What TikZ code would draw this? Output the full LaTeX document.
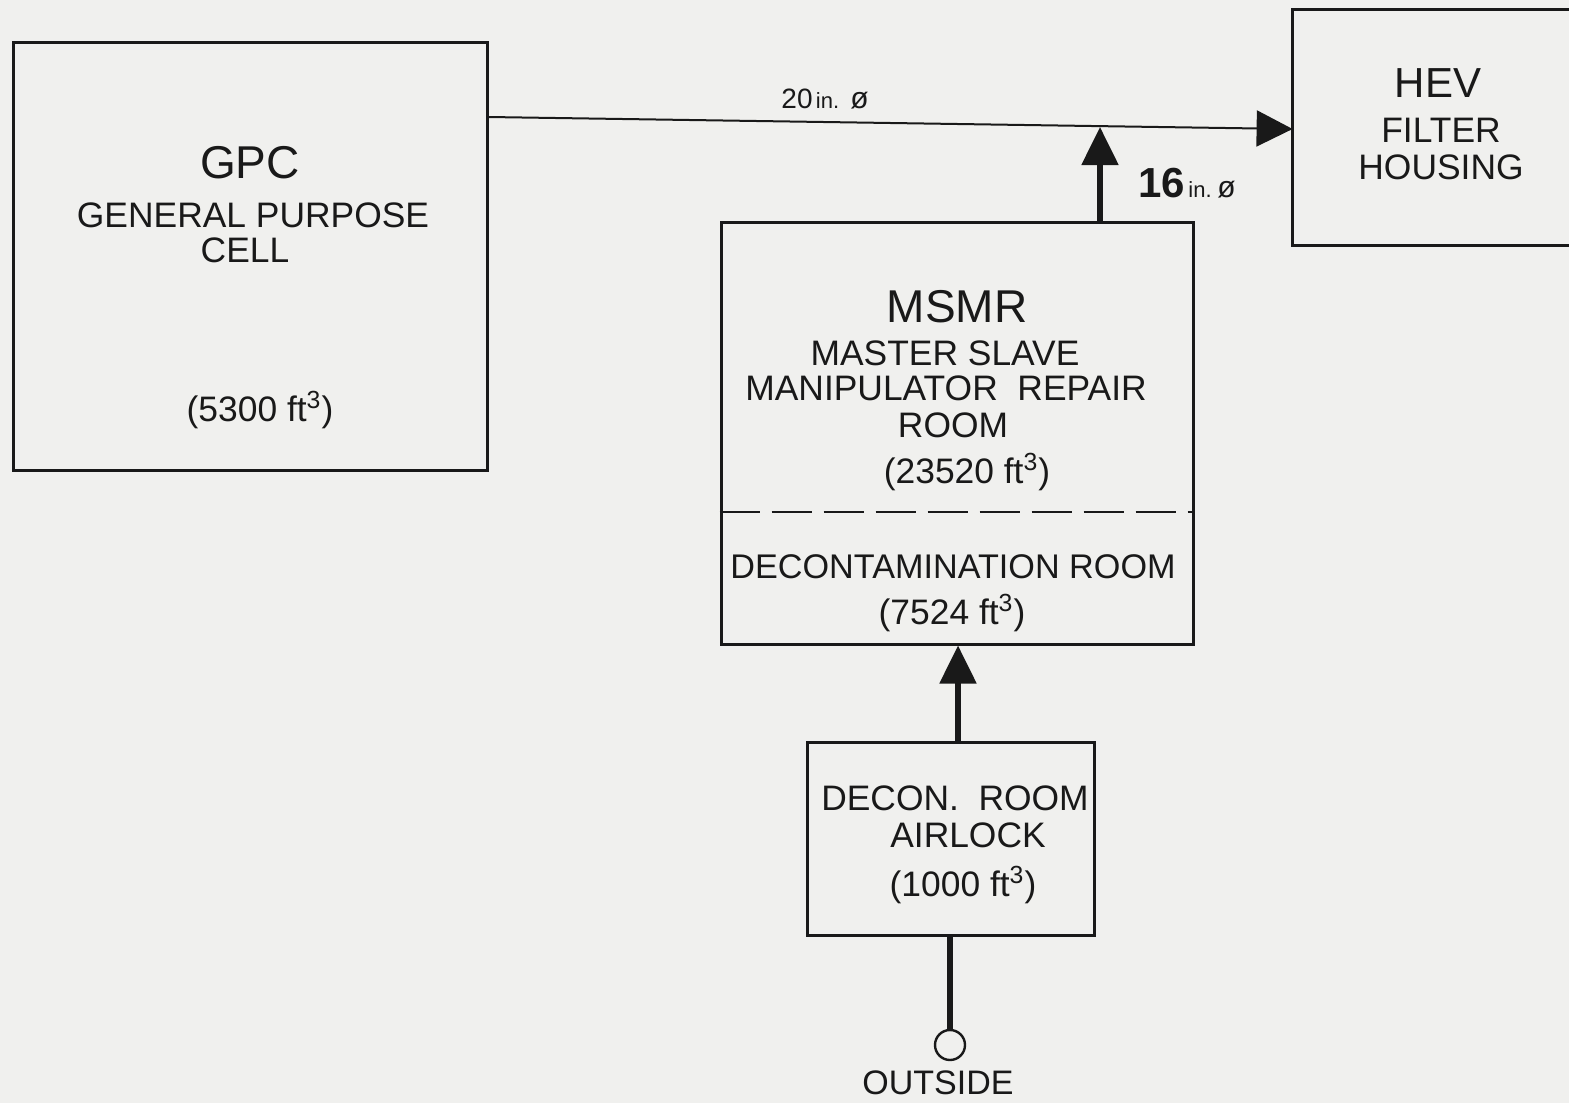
\documentclass[tikz,border=0pt]{standalone}
\usepackage{fontspec}
\setmainfont{Liberation Sans}
\usetikzlibrary{arrows.meta,fit}
\definecolor{bg}{RGB}{240,240,238}
\definecolor{ink}{RGB}{25,25,25}
\begin{document}
\begin{tikzpicture}[x=0.5pt,y=-0.5pt,
  box/.style={draw=ink, line width=1.5pt, inner sep=0pt},
  openbox/.style={inner sep=0pt},
  txt/.style={text=ink, inner sep=0pt, font=\fontsize{17.7}{20}\selectfont},
  big/.style={text=ink, inner sep=0pt, font=\fontsize{23}{26}\selectfont},
  pipe/.style={draw=ink, line width=1pt, -{Triangle[length=18pt,width=18pt]}},
  flow/.style={draw=ink, line width=2.6pt, -{Triangle[length=19pt,width=18pt]}},
  feed/.style={draw=ink, line width=2.6pt},
  divider/.style={draw=ink, line width=1pt, dash pattern=on 20pt off 6pt},
  port/.style={draw=ink, circle, line width=1.2pt, minimum size=15pt, inner sep=0pt}
]
\fill[bg] (0,0) rectangle (1569,1103);
\useasboundingbox (0,0) rectangle (1569,1103);

% boxes
\node[box, fit={(13,42) (487,470)}] (gpc) {};
\node[openbox, fit={(1293,10) (1569,245)}] (hev) {};
\draw[ink, line width=1.5pt] (hev.north east) -- (hev.north west) -- (hev.south west) -- (hev.south east);
\node[box, fit={(721,222) (1193,644)}] (msmr) {};
\node[box, fit={(807,742) (1094,935)}] (airlock) {};
\node[port] (outside) at (950,1045) {};

% divider inside MSMR
\coordinate (dl) at (721,512);
\draw[divider] (msmr.west |- dl) -- (msmr.east |- dl);

% texts GPC
\node[big] (tgpc) at (250,163) {GPC};
\node[txt] (tgpc1) at (253,215) {GENERAL PURPOSE};
\node[txt] (tgpc2) at (245,250) {CELL};
\node[txt] (tgpc3) at (260,410) {(5300 ft\textsuperscript{3})};

% texts HEV
\node[text=ink, inner sep=0pt, font=\fontsize{21}{24}\selectfont] (thev) at (1438,83) {HEV};
\node[txt] (thev1) at (1441,130) {FILTER};
\node[txt] (thev2) at (1441,167) {HOUSING};

% texts MSMR
\node[big] (tmsmr) at (957,307) {MSMR};
\node[txt] (tmsmr1) at (945,353) {MASTER SLAVE};
\node[txt] (tmsmr2) at (946,388) {MANIPULATOR\ \ REPAIR};
\node[txt] (tmsmr3) at (953,425) {ROOM};
\node[txt] (tmsmr4) at (967,472) {(23520 ft\textsuperscript{3})};
\node[txt, font=\fontsize{17.1}{20}\selectfont] (tdec1) at (953,567) {DECONTAMINATION ROOM};
\node[txt] (tdec2) at (952,613) {(7524 ft\textsuperscript{3})};

% texts airlock
\node[txt] (tair1) at (955,798) {DECON.\ \ ROOM};
\node[txt] (tair2) at (968,835) {AIRLOCK};
\node[txt] (tair3) at (963,885) {(1000 ft\textsuperscript{3})};

\node[txt, font=\fontsize{17}{20}\selectfont] (tout) at (938,1083) {OUTSIDE};

% connectors
\coordinate (j) at (1100,127);
\draw[pipe] (gpc.east |- 0,117) -- (hev.west |- 0,129);
\draw[flow] (msmr.north -| j) -- (j);
\draw[flow] (airlock.north -| 958,0) -- (msmr.south -| 958,0);
\draw[feed] (airlock.south -| outside) -- (outside.north);

% pipe labels
\node[text=ink, inner sep=0pt, anchor=base] (l20) at (825,108)
  {{\fontsize{14}{16}\selectfont 20}\,{\fontsize{11}{13}\selectfont in.}\ \ {\fontsize{15}{17}\selectfont ø}};
\node[text=ink, inner sep=0pt, anchor=base] (l16) at (1187,197)
  {{\fontsize{21}{24}\selectfont\bfseries 16}\,{\fontsize{11}{13}\selectfont in.}\ {\fontsize{15}{17}\selectfont ø}};
\end{tikzpicture}
\end{document}
